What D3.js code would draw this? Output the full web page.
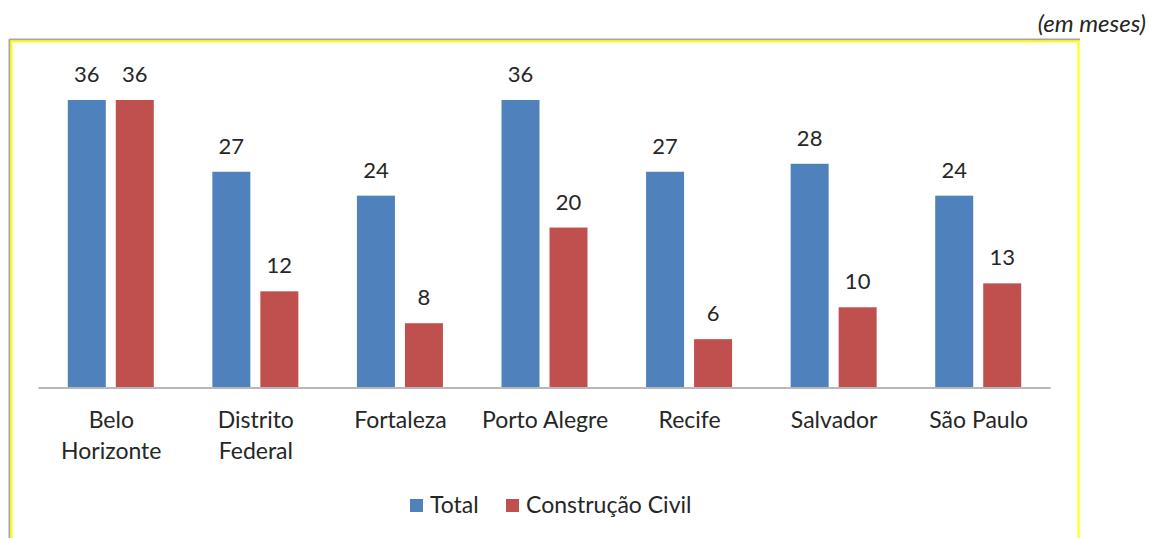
<!DOCTYPE html>
<html><head><meta charset="utf-8">
<script src="https://cdn.jsdelivr.net/npm/d3@7"></script>
<style>body{margin:0;background:#fff}svg{display:block}</style>
</head><body>
<svg id="c" width="1149" height="538"></svg>
<script>
const categories = [["Belo","Horizonte"],["Distrito","Federal"],["Fortaleza"],["Porto Alegre"],["Recife"],["Salvador"],["São Paulo"]];
const seriesNames = ["Total","Construção Civil"];
const totalValues = [36,27,24,36,27,28,24];
const civilValues = [36,12,8,20,6,10,13];
const colors = ["#4F81BD","#C0504D"];
const unitNote = "(em meses)";

const svg = d3.select("#c");
const font = "Lato, 'Open Sans', sans-serif";
const textColor = "#262626";

// frame
svg.append("line").attr("x1",9.5).attr("x2",1080).attr("y1",39.5).attr("y2",39.5).attr("stroke","#A6A6A6").attr("stroke-width",2);
svg.append("line").attr("x1",9.5).attr("x2",9.5).attr("y1",39).attr("y2",538).attr("stroke","#A6A6A6").attr("stroke-width",2);
svg.append("path").attr("d","M11.5,538V41.5H1078.5V538").attr("fill","none").attr("stroke","#FFFF00").attr("stroke-width",2);

svg.append("text").attr("x",1146).attr("y",32).attr("text-anchor","end")
  .attr("font-family",font).attr("font-style","italic").attr("font-size",24).attr("fill",textColor).text(unitNote);

const idx = d3.range(categories.length);
const x = d3.scaleBand().domain(idx).range([38,1050]).paddingInner(0).paddingOuter(0);
const y = d3.scaleLinear().domain([0,36]).range([387,100]);
const inner = d3.scaleBand().domain([0,1]).range([x.bandwidth()/2-42.5, x.bandwidth()/2+43.5]).paddingInner(10/48).paddingOuter(0);

const data = idx.map(i=>({i, vals:[totalValues[i],civilValues[i]]}));
const g = svg.selectAll("g.grp").data(data).enter().append("g").attr("transform",d=>`translate(${x(d.i)},0)`);
g.selectAll("rect").data(d=>d.vals.map((v,k)=>({v,k}))).enter().append("rect")
  .attr("x",d=>inner(d.k)).attr("width",inner.bandwidth())
  .attr("y",d=>y(d.v)).attr("height",d=>y(0)-y(d.v)).attr("fill",d=>colors[d.k]);
g.selectAll("text.val").data(d=>d.vals.map((v,k)=>({v,k}))).enter().append("text")
  .attr("x",d=>inner(d.k)+inner.bandwidth()/2).attr("y",d=>y(d.v)-18)
  .attr("text-anchor","middle").attr("font-family",font).attr("font-size",22).attr("fill",textColor).text(d=>d.v);

// baseline axis
const ax = svg.append("g").attr("transform","translate(0,387.5)").call(d3.axisBottom(x).tickSize(0).tickFormat(""));
ax.select(".domain").attr("stroke","#A0A0A0").attr("stroke-width",1.5);

g.each(function(d){
  const t = d3.select(this).append("text").attr("text-anchor","middle").attr("font-family",font).attr("font-size",23).attr("fill",textColor);
  categories[d.i].forEach((s,j)=>t.append("tspan").attr("x",x.bandwidth()/2+1).attr("y",428+j*31).text(s));
});

// legend
const leg = svg.append("g");
const lx = [410,506];
seriesNames.forEach((n,k)=>{
  leg.append("rect").attr("x",lx[k]).attr("y",499).attr("width",13).attr("height",13).attr("fill",colors[k]);
  leg.append("text").attr("x",lx[k]+20).attr("y",513).attr("font-family",font).attr("font-size",23).attr("fill",textColor).text(n);
});
</script>
</body></html>
